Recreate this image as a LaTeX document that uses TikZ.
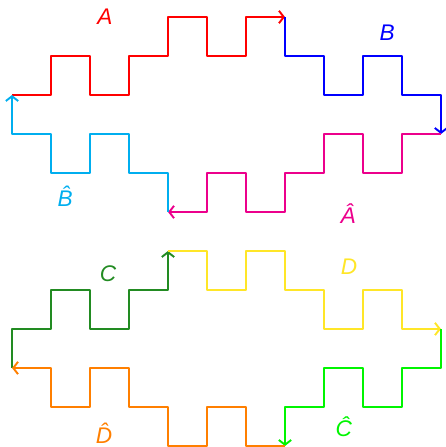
\documentclass[tikz,border=0pt]{standalone}
\usepackage{fontspec}
\usetikzlibrary{arrows.meta}
\setsansfont{Liberation Sans}
\definecolor{edgeA}{RGB}{255,0,0}
\definecolor{edgeB}{RGB}{0,0,255}
\definecolor{edgeAh}{RGB}{236,0,140}
\definecolor{edgeBh}{RGB}{0,174,239}
\definecolor{edgeC}{RGB}{34,139,34}
\definecolor{edgeD}{RGB}{255,230,40}
\definecolor{edgeCh}{RGB}{0,245,0}
\definecolor{edgeDh}{RGB}{255,127,0}
\begin{document}
\begin{tikzpicture}[tileedge/.style={-{Straight Barb[length=3.5pt,width=9pt]}, line width=1.4pt, line join=round},
  edgelabel/.style={font=\fontsize{16.5}{18}\selectfont\sffamily\itshape}]
  \useasboundingbox (-0.308,-0.026) rectangle (11.128,11.436);
  % upper tile
  \draw[tileedge, edgeA] (0,9) -- (1,9) -- (1,10) -- (2,10) -- (2,9) -- (3,9) -- (3,10)
    -- (4,10) -- (4,11) -- (5,11) -- (5,10) -- (6,10) -- (6,11) -- (7,11);
  \draw[tileedge, edgeB] (7,11) -- (7,10) -- (8,10) -- (8,9) -- (9,9) -- (9,10)
    -- (10,10) -- (10,9) -- (11,9) -- (11,8);
  \draw[tileedge, edgeAh] (11,8) -- (10,8) -- (10,7) -- (9,7) -- (9,8) -- (8,8) -- (8,7)
    -- (7,7) -- (7,6) -- (6,6) -- (6,7) -- (5,7) -- (5,6) -- (4,6);
  \draw[tileedge, edgeBh] (4,6) -- (4,7) -- (3,7) -- (3,8) -- (2,8) -- (2,7)
    -- (1,7) -- (1,8) -- (0,8) -- (0,9);
  % lower tile
  \draw[tileedge, edgeC] (0,2) -- (0,3) -- (1,3) -- (1,4) -- (2,4) -- (2,3)
    -- (3,3) -- (3,4) -- (4,4) -- (4,5);
  \draw[tileedge, edgeD] (4,5) -- (5,5) -- (5,4) -- (6,4) -- (6,5) -- (7,5) -- (7,4)
    -- (8,4) -- (8,3) -- (9,3) -- (9,4) -- (10,4) -- (10,3) -- (11,3);
  \draw[tileedge, edgeCh] (11,3) -- (11,2) -- (10,2) -- (10,1) -- (9,1) -- (9,2)
    -- (8,2) -- (8,1) -- (7,1) -- (7,0);
  \draw[tileedge, edgeDh] (7,0) -- (6,0) -- (6,1) -- (5,1) -- (5,0) -- (4,0) -- (4,1)
    -- (3,1) -- (3,2) -- (2,2) -- (2,1) -- (1,1) -- (1,2) -- (0,2);
  % labels
  \node[edgelabel, edgeA]  (labA)  at (2.38,11.0) {A};
  \node[edgelabel, edgeB]  (labB)  at (9.62,10.59) {B};
  \node[edgelabel, edgeAh] (labAh) at (8.62,5.95) {\^{A}};
  \node[edgelabel, edgeBh] (labBh) at (1.36,6.4) {\^{B}};
  \node[edgelabel, edgeC]  (labC)  at (2.46,4.41) {C};
  \node[edgelabel, edgeD]  (labD)  at (8.64,4.59) {D};
  \node[edgelabel, edgeCh] (labCh) at (8.51,0.5) {\^{C}};
  \node[edgelabel, edgeDh] (labDh) at (2.36,0.32) {\^{D}};
\end{tikzpicture}
\end{document}
